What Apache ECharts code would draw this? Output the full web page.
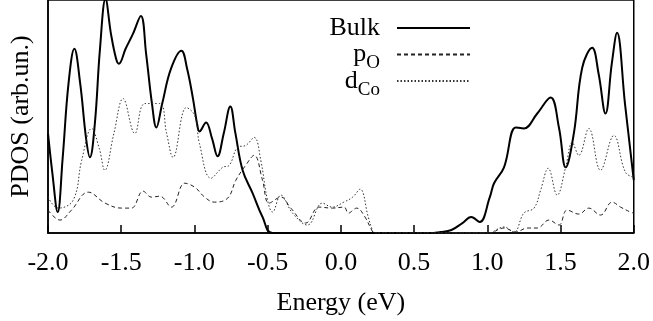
<!DOCTYPE html>
<html>
<head>
<meta charset="utf-8">
<script src="https://cdn.jsdelivr.net/npm/echarts@6/dist/echarts.min.js"></script>
<style>
  html, body { margin: 0; padding: 0; background: #fff; }
  #main { width: 653px; height: 321px; }
</style>
</head>
<body>
<div id="main"></div>
<script>
// values, energy in eV, PDOS in arbitrary units
const bulkEnergy = [-2.0, -1.97, -1.934, -1.9, -1.86, -1.82, -1.78, -1.74, -1.714, -1.68, -1.645, -1.607, -1.57, -1.535, -1.516, -1.47, -1.42, -1.366, -1.33, -1.29, -1.26, -1.22, -1.16, -1.089, -1.05, -1.01, -0.98, -0.966, -0.921, -0.88, -0.842, -0.8, -0.755, -0.72, -0.671, -0.603, -0.535, -0.467, 0.0, 0.55, 0.596, 0.68, 0.755, 0.83, 0.89, 0.948, 1.017, 1.046, 1.114, 1.194, 1.25, 1.341, 1.432, 1.489, 1.535, 1.591, 1.648, 1.716, 1.76, 1.807, 1.85, 1.886, 1.94, 2.0];
const bulkPdos = [100, 60, 21, 75, 150, 185, 150, 95, 76, 110, 185, 235, 200, 175, 170, 185, 200, 218, 180, 130, 106, 130, 165, 183, 165, 135, 108, 102, 111, 95, 77, 100, 127, 100, 63, 40, 16, 0, 0, 0, 0, 1, 3, 10, 16, 11, 36, 50, 66, 106, 105, 120, 136, 106, 66, 100, 166, 186, 160, 120, 170, 201, 130, 53];

const pOEnergy = [-2.0, -1.918, -1.84, -1.725, -1.61, -1.498, -1.43, -1.351, -1.293, -1.237, -1.157, -1.066, -0.998, -0.93, -0.864, -0.773, -0.717, -0.65, -0.592, -0.535, -0.49, -0.41, -0.342, -0.24, -0.149, -0.058, 0.022, 0.051, 0.108, 0.165, 0.21, 0.23, 0.6, 1.03, 1.068, 1.114, 1.194, 1.273, 1.341, 1.421, 1.489, 1.545, 1.625, 1.693, 1.773, 1.852, 1.91, 1.978, 2.0];
const pOPdos = [23, 13, 23, 41, 30, 25, 25, 42, 36, 37, 26, 50, 46, 36, 31, 35, 53, 68, 78, 53, 30, 36, 25, 10, 26, 25, 26, 20, 25, 16, 3, 0, 0, 0, 3, 5, 1, 5, 5, 13, 8, 23, 19, 25, 18, 31, 26, 21, 20];

const dCoEnergy = [-2.0, -1.93, -1.828, -1.77, -1.702, -1.65, -1.612, -1.55, -1.487, -1.407, -1.339, -1.237, -1.19, -1.146, -1.055, -0.998, -0.966, -0.887, -0.807, -0.762, -0.705, -0.649, -0.592, -0.547, -0.501, -0.467, -0.41, -0.33, -0.228, -0.126, -0.06, 0.02, 0.08, 0.131, 0.187, 0.21, 0.23, 0.6, 1.02, 1.057, 1.114, 1.182, 1.25, 1.319, 1.364, 1.416, 1.477, 1.535, 1.58, 1.625, 1.693, 1.773, 1.864, 1.943, 2.0];
const dCoPdos = [36, 25, 33, 73, 105, 85, 63, 100, 135, 100, 130, 130, 100, 76, 126, 118, 90, 55, 66, 68, 86, 88, 96, 73, 33, 21, 38, 20, 8, 30, 26, 31, 36, 44, 16, 5, 0, 0, 0, 3, 6, 1, 20, 25, 43, 65, 38, 66, 91, 78, 105, 63, 98, 61, 56];

const xTicks = [-2.0, -1.5, -1.0, -0.5, 0.0, 0.5, 1.0, 1.5, 2.0];

const pairs = (xs, ys) => xs.map((x, i) => [x, ys[i]]);
const serif = "'Liberation Serif', 'DejaVu Serif', serif";

const chart = echarts.init(document.getElementById("main"));

const option = {
  animation: false,
  textStyle: { fontFamily: serif, color: "#000" },
  grid: {
    left: 47,
    right: 19,
    top: -1,
    bottom: 88,
    show: true,
    borderColor: "#000",
    borderWidth: 1.5,
  },
  legend: {
    orient: "vertical",
    align: "right",
    right: 182,
    top: 9.5,
    padding: 0,
    itemGap: -10.5,
    itemWidth: 73,
    itemHeight: 14,
    itemStyle: { color: "transparent", borderWidth: 0, opacity: 0 },
    data: ["Bulk", "pO", "dCo"],
    formatter: (name) => {
      if (name === "Bulk") return "{b|Bulk}";
      if (name === "pO") return "{n|p}{s|O}";
      return "{n|d}{s|Co}";
    },
    textStyle: {
      fontFamily: serif,
      color: "#000",
      padding: [0, 12, 0, 0],
      rich: {
        // subscript is pushed down by its top padding
        b: { fontFamily: serif, fontSize: 26, lineHeight: 26, padding: [5.5, 0, 5.5, 0] },
        n: { fontFamily: serif, fontSize: 26, lineHeight: 26 },
        s: { fontFamily: serif, fontSize: 19, lineHeight: 19, padding: [18, 0, 0, 0] },
      },
    },
  },
  xAxis: {
    type: "value",
    min: -2,
    max: 2,
    interval: 0.5,
    name: "Energy (eV)",
    nameLocation: "middle",
    nameGap: 57,
    nameTextStyle: { fontFamily: serif, fontSize: 26, color: "#000" },
    axisLine: { onZero: false, lineStyle: { color: "#000", width: 1.5 } },
    axisTick: { inside: true, length: 8, lineStyle: { color: "#000", width: 1.5 } },
    axisLabel: {
      margin: 17,
      fontFamily: serif,
      fontSize: 26,
      color: "#000",
      formatter: (v) => (xTicks.includes(v) ? v.toFixed(1) : ""),
    },
    splitLine: { show: false },
  },
  yAxis: {
    type: "value",
    min: 0,
    max: 234,
    name: "PDOS (arb.un.)",
    nameLocation: "middle",
    nameGap: 14,
    nameTextStyle: { fontFamily: serif, fontSize: 26, color: "#000" },
    axisLine: { show: true, onZero: false, lineStyle: { color: "#000", width: 1.5 } },
    axisTick: { show: false },
    axisLabel: { show: false },
    splitLine: { show: false },
  },
  series: [
    {
      name: "Bulk",
      type: "line",
      smooth: 0.4,
      symbol: "none",
      lineStyle: { color: "#000", width: 2 },
      itemStyle: { color: "#000" },
      data: pairs(bulkEnergy, bulkPdos),
    },
    {
      name: "pO",
      type: "line",
      smooth: 0.4,
      symbol: "none",
      lineStyle: { color: "#222", width: 1, type: [4, 3] },
      itemStyle: { color: "#222" },
      data: pairs(pOEnergy, pOPdos),
    },
    {
      name: "dCo",
      type: "line",
      smooth: 0.4,
      symbol: "none",
      lineStyle: { color: "#333", width: 1, type: [1.5, 2] },
      itemStyle: { color: "#333" },
      data: pairs(dCoEnergy, dCoPdos),
    },
  ],
};

chart.setOption(option);
</script>
</body>
</html>
